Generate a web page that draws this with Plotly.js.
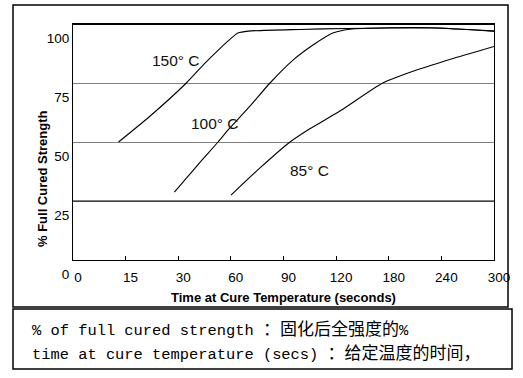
<!DOCTYPE html>
<html>
<head>
<meta charset="utf-8">
<script src="https://cdn.plot.ly/plotly-3.0.1.min.js"></script>
<style>html,body{margin:0;padding:0;background:#fff;}</style>
</head>
<body>
<div id="chart" style="width:523px;height:378px;"></div>
<script>
// Category tick labels (equally spaced on the axis) and their values in seconds
const xTickLabels = ['0','15','30','60','90','120','180','240','300'];
const xTickSeconds = [0, 15, 30, 60, 90, 120, 180, 240, 300];
const yTickVals = [0, 25, 50, 75, 100];

// Curves: time (s) and % of full cured strength
const t150 = [13, 22, 34.6, 45.4, 54, 59.6, 64, 70, 99, 132, 181, 230, 300];
const s150 = [50, 61, 75, 83.5, 89.8, 93.6, 96.2, 97, 97.7, 98.1, 98.3, 98.3, 97];

const t100 = [28.9, 42.5, 52.7, 58.4, 71, 82.3, 95.4, 106.8, 118.1, 135.7, 181, 230, 300];
const s100 = [28.8, 41.5, 50, 55.1, 65.3, 75, 84.7, 91.1, 96.2, 97.8, 98.4, 98.4, 97];

const t85 = [60.1, 76.6, 93.7, 103.9, 124.3, 173.2, 211.9, 255.1, 300];
const s85 = [27.5, 39, 50, 55.1, 63.1, 75, 80.5, 85.6, 90.5];

// Curve labels
const curveNames = ['150° C', '100° C', '85° C'];
const labelT = [29.3, 51.2, 105.1];
const labelS = [84.7, 58.05, 38.1];

const xTitle = 'Time at Cure Temperature (seconds)';
const yTitle = '% Full Cured Strength';
const noteLatin1 = '% of full cured strength ';
const noteCJK1 = '：固化后全强度的';
const noteTail1 = '%';
const noteLatin2 = 'time at cure temperature (secs) ';
const noteCJK2 = '：给定温度的时间，';

// map seconds onto the equally spaced category axis (piecewise linear)
function toIdx(s) {
  for (let i = 0; i < xTickSeconds.length - 1; i++) {
    const a = xTickSeconds[i], b = xTickSeconds[i + 1];
    if (s <= b) return i + (s - a) / (b - a);
  }
  return xTickSeconds.length - 1;
}

const lineStyle = {color: '#000', width: 1.1, shape: 'spline', smoothing: 0.6};
const traces = [
  {x: t150.map(toIdx), y: s150, mode: 'lines', line: lineStyle, hoverinfo: 'skip', name: curveNames[0]},
  {x: t100.map(toIdx), y: s100, mode: 'lines', line: lineStyle, hoverinfo: 'skip', name: curveNames[1]},
  {x: t85.map(toIdx), y: s85, mode: 'lines', line: lineStyle, hoverinfo: 'skip', name: curveNames[2]}
];

const sans = 'Liberation Sans, Arial, sans-serif';
const mono = 'Liberation Mono, Courier New, monospace';
const cjkSpan = (t) => '<span style="font-family:\'Noto Sans CJK SC\';font-size:17px">' + t + '</span>';

const annotations = curveNames.map((n, i) => ({
  x: toIdx(labelT[i]), y: labelS[i], xref: 'x', yref: 'y', text: n, showarrow: false,
  font: {family: sans, size: 15.5, color: '#111'}
}));
// y-axis title (sits lower than the plot centre in the original)
annotations.push({
  xref: 'paper', yref: 'paper', x: -0.0736, y: 0.3432, xanchor: 'center', yanchor: 'middle',
  textangle: -90, text: '<b>' + yTitle + '</b>', showarrow: false,
  font: {family: sans, size: 13, color: '#000'}
});
annotations.push({
  xref: 'paper', yref: 'paper', x: -0.1021, y: -0.2881, xanchor: 'left', yanchor: 'middle',
  text: noteLatin1 + cjkSpan(noteCJK1) + noteTail1, showarrow: false,
  font: {family: mono, size: 15.4, color: '#000'}
});
annotations.push({
  xref: 'paper', yref: 'paper', x: -0.1021, y: -0.3856, xanchor: 'left', yanchor: 'middle',
  text: noteLatin2 + cjkSpan(noteCJK2), showarrow: false,
  font: {family: mono, size: 15.4, color: '#000'}
});

const shapes = [
  // outer chart frame
  {type: 'rect', xref: 'paper', yref: 'paper', x0: -0.1425, x1: 1.0333, y0: -0.1992, y1: 1.0805,
   line: {color: '#000', width: 1.5}, layer: 'below'},
  // note box frame
  {type: 'rect', xref: 'paper', yref: 'paper', x0: -0.1425, x1: 1.0428, y0: -0.4619, y1: -0.2076,
   line: {color: '#000', width: 1.5}, layer: 'below'},
  // black 25 gridline
  {type: 'line', xref: 'paper', yref: 'y', x0: 0, x1: 1, y0: 25, y1: 25, line: {color: '#000', width: 1}},
  // thick top border
  {type: 'line', xref: 'paper', yref: 'paper', x0: 0, x1: 1, y0: 1, y1: 1, line: {color: '#000', width: 2}}
];

const layout = {
  width: 523, height: 378,
  margin: {l: 73, r: 29, t: 24, b: 118, autoexpand: false},
  paper_bgcolor: '#fff', plot_bgcolor: '#fff',
  showlegend: false,
  xaxis: {
    range: [0, xTickLabels.length - 1],
    tickmode: 'array', tickvals: xTickLabels.map((_, i) => i), ticktext: xTickLabels,
    ticks: 'inside', ticklen: 4, tickwidth: 1, tickcolor: '#000',
    showgrid: false, zeroline: false,
    showline: true, linecolor: '#000', linewidth: 1, mirror: true,
    ticklabelshift: 5, ticklabelstandoff: 5,
    tickfont: {family: sans, size: 13.5, color: '#000'},
    title: {text: '<b>' + xTitle + '</b>', font: {family: sans, size: 13, color: '#000'}, standoff: 8},
    automargin: false, fixedrange: true
  },
  yaxis: {
    range: [0, 100],
    tickmode: 'array', tickvals: yTickVals,
    ticks: '',
    showgrid: true, gridcolor: '#808080', gridwidth: 1,
    zeroline: false,
    showline: true, linecolor: '#000', linewidth: 1, mirror: true,
    ticklabelshift: 14,
    tickfont: {family: sans, size: 13.5, color: '#000'},
    automargin: false, fixedrange: true
  },
  shapes: shapes,
  annotations: annotations
};

Plotly.newPlot('chart', traces, layout, {displayModeBar: false, staticPlot: true});
</script>
</body>
</html>
